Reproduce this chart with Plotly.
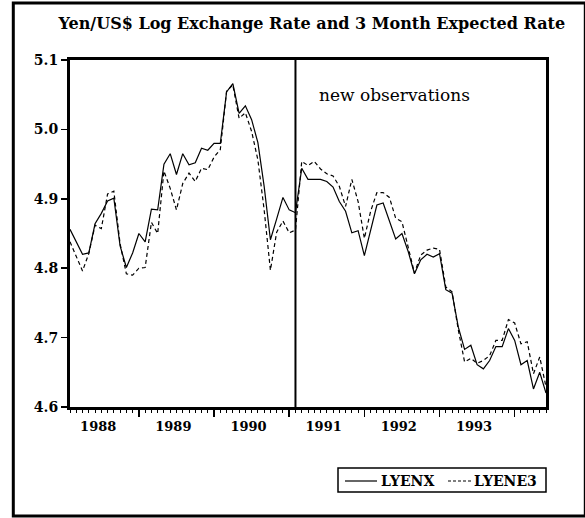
import plotly.graph_objects as go
import pandas as pd

# ---- data (monthly, 1988:02 - 1994:06) ----
start_month = "1988-02"
lyenx = [4.856, 4.838, 4.820, 4.822, 4.864, 4.879, 4.897, 4.901, 4.832, 4.801,
         4.822, 4.850, 4.838, 4.885, 4.884, 4.950, 4.965, 4.935, 4.965, 4.949,
         4.952, 4.973, 4.970, 4.980, 4.980, 5.054, 5.066, 5.023, 5.034, 5.014,
         4.981, 4.918, 4.841, 4.871, 4.902, 4.884, 4.880,
         4.944, 4.928, 4.928, 4.928, 4.925, 4.917, 4.896, 4.882, 4.851, 4.854,
         4.818, 4.855, 4.891, 4.894, 4.867, 4.842, 4.850, 4.824, 4.792, 4.812,
         4.820, 4.816, 4.821, 4.769, 4.764, 4.715, 4.683, 4.689, 4.661, 4.655,
         4.667, 4.687, 4.687, 4.713, 4.696, 4.661, 4.667, 4.626, 4.650, 4.620]
lyene3 = [4.838, 4.817, 4.796, 4.821, 4.862, 4.857, 4.907, 4.911, 4.835, 4.792,
          4.790, 4.800, 4.801, 4.866, 4.850, 4.940, 4.915, 4.884, 4.922, 4.937,
          4.925, 4.944, 4.942, 4.960, 4.971, 5.055, 5.064, 5.016, 5.024, 4.997,
          4.956, 4.884, 4.797, 4.852, 4.868, 4.851, 4.855,
          4.954, 4.948, 4.954, 4.943, 4.936, 4.933, 4.918, 4.889, 4.928, 4.896,
          4.843, 4.882, 4.909, 4.909, 4.902, 4.872, 4.867, 4.831, 4.793, 4.819,
          4.826, 4.829, 4.827, 4.773, 4.766, 4.711, 4.665, 4.670, 4.663, 4.667,
          4.674, 4.696, 4.696, 4.726, 4.721, 4.691, 4.694, 4.648, 4.672, 4.629]
series_names = ["LYENX", "LYENE3"]
new_obs_month = "1991-02"
year_labels = ["1988", "1989", "1990", "1991", "1992", "1993"]
y_ticks = [4.6, 4.7, 4.8, 4.9, 5.0, 5.1]

months = pd.period_range(start_month, periods=len(lyenx), freq="M")
x = list(range(len(months)))
year_starts = [i for i, m in enumerate(months) if m.month == 1]
first = pd.Period(start_month, freq="M")
label_pos = [(pd.Period(f"{y}-01", freq="M") - first).n + 5.5 for y in year_labels]
break_idx = (pd.Period(new_obs_month, freq="M") - first).n

SERIF = "DejaVu Serif"
W, H = 585, 518
ML, MR, MT, MB = 70, 39, 60, 111
PW, PH = W - ML - MR, H - MT - MB


def px(xp):
    return (xp - ML) / PW


def py(yp):
    return (MT + PH - yp) / PH


fig = go.Figure()
fig.add_trace(go.Scatter(x=x, y=lyenx, mode="lines", name=series_names[0],
                         line=dict(color="black", width=1.2), showlegend=False))
fig.add_trace(go.Scatter(x=x, y=lyene3, mode="lines", name=series_names[1],
                         line=dict(color="black", width=1.2, dash="4px,3px"),
                         showlegend=False))
fig.add_trace(go.Scatter(x=[label_pos[0]], y=[None], xaxis="x2", showlegend=False,
                         hoverinfo="skip", mode="lines"))

# boundary of new observations
fig.add_shape(type="line", xref="x", yref="paper", x0=break_idx, x1=break_idx,
              y0=0, y1=1, line=dict(color="black", width=2))
# outer frame
fig.add_shape(type="rect", xref="paper", yref="paper",
              x0=px(13.3), x1=px(585.3), y0=py(516), y1=py(3),
              line=dict(color="black", width=3))

# legend box (drawn by hand to match the boxed key)
fig.add_shape(type="rect", xref="paper", yref="paper",
              x0=px(338), x1=px(546), y0=py(492), y1=py(468),
              line=dict(color="black", width=1.5), fillcolor="white")
fig.add_shape(type="line", xref="paper", yref="paper",
              x0=px(345), x1=px(377), y0=py(481), y1=py(481),
              line=dict(color="black", width=1.2))
fig.add_shape(type="line", xref="paper", yref="paper",
              x0=px(448), x1=px(472), y0=py(481), y1=py(481),
              line=dict(color="black", width=1.2, dash="3px,2px"))
fig.add_annotation(text=series_names[0], xref="paper", yref="paper",
                   x=px(379), y=py(480.5), xanchor="left", yanchor="middle",
                   showarrow=False,
                   font=dict(family=SERIF, size=14, color="black", weight="bold"))
fig.add_annotation(text=series_names[1], xref="paper", yref="paper",
                   x=px(472), y=py(480.5), xanchor="left", yanchor="middle",
                   showarrow=False,
                   font=dict(family=SERIF, size=14, color="black", weight="bold"))

fig.add_annotation(text="new observations", xref="x", yref="y", x=39.4, y=5.05,
                   xanchor="left", yanchor="middle", showarrow=False,
                   font=dict(family=SERIF, size=17, color="black"))

fig.update_layout(
    width=W, height=H,
    margin=dict(l=ML, r=MR, t=MT, b=MB),
    paper_bgcolor="white", plot_bgcolor="white",
    showlegend=False,
    title=dict(text="Yen/US$ Log Exchange Rate and 3 Month Expected Rate",
               x=0.508, xref="paper", xanchor="center",
               y=1 - 23 / H, yref="container", yanchor="middle",
               font=dict(family=SERIF, size=16, color="black", weight="bold")),
    xaxis=dict(range=[0, len(x) - 1], showline=True, linewidth=3, linecolor="black",
               mirror=True, ticks="outside", tickmode="array", tickvals=year_starts,
               ticklen=7, tickwidth=1.5, tickcolor="black", showticklabels=False,
               showgrid=False, zeroline=False,
               minor=dict(ticks="outside", ticklen=3, tickwidth=1, tickcolor="black",
                          dtick=1, tick0=0, showgrid=False)),
    xaxis2=dict(range=[0, len(x) - 1], overlaying="x", anchor="y", side="bottom",
                tickmode="array", tickvals=label_pos, ticktext=year_labels,
                ticks="", showline=False, showgrid=False, zeroline=False,
                ticklabelstandoff=10,
                tickfont=dict(family=SERIF, size=13, color="black", weight="bold")),
    yaxis=dict(range=[4.6, 5.1], tickmode="array", tickvals=y_ticks,
               ticktext=[f"{v:.1f}" for v in y_ticks],
               ticks="outside", ticklen=6, tickwidth=1.5, tickcolor="black",
               showline=True, linewidth=3, linecolor="black", mirror=True,
               showgrid=False, zeroline=False,
               tickfont=dict(family=SERIF, size=14, color="black", weight="bold")),
)

fig.write_html("out.html",
               config={"displayModeBar": False, "staticPlot": True},
               post_script="document.body.style.margin='0';"
                           "document.body.style.padding='0';")
